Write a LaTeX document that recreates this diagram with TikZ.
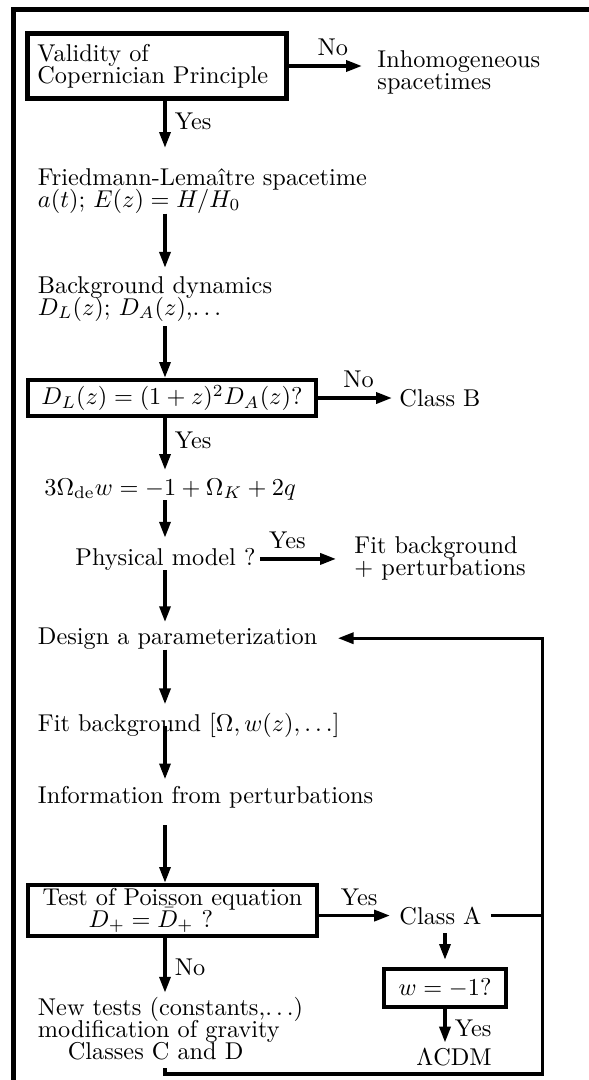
\documentclass[tikz,border=0pt]{standalone}
\usepackage{amsmath}
\usetikzlibrary{arrows.meta}
\newcommand{\tightfont}{\fontsize{10}{9}\selectfont\lineskiplimit=-\maxdimen}
\tikzset{
	flow/.style = {line width=1.4pt,-{Triangle[length=6.5pt,width=4.5pt]}},
	link/.style = {line width=1.4pt},
	txt/.style = {inner sep=0pt,align=left,font=\tightfont},
	testbox/.style = {draw,line width=1.8pt,inner sep=0pt,align=left,font=\tightfont},
	lbl/.style = {font=\tightfont}
}

\begin{document}
\begin{tikzpicture}[x=0.4115pt,y=-0.4115pt]
	\useasboundingbox (0,0) rectangle (588,1080);
	\draw[line width=2.2pt] (13.5,9.2) rectangle (700,1200);

	\coordinate (col) at (165,0);
	\coordinate (loopR) at (542.6,0);
	\coordinate (loopB) at (0,1074);

	% base of a text with several lines is its last line
	\node[testbox,minimum width=106.6pt,minimum height=26.7pt,inner xsep=4.1pt,text width=98.4pt] (cop) at (157,66) {Validity of\\Copernician Principle};
	\node[txt,anchor=base west] (inh) at (377,89) {Inhomogeneous\\spacetimes};
	\node[txt,anchor=base west] (frl) at (37.5,207) {Friedmann-Lema\^{\i}tre spacetime\\$a(t)$; $E(z)=H/H_0$};
	\node[txt,anchor=base west] (bgd) at (37.5,315) {Background dynamics\\$D_L(z)$; $D_A(z)$,$\ldots$};
	\node[testbox,minimum width=118.5pt,minimum height=14.8pt] (dist) at (172,398) {$D_L(z)=(1+z)^2D_A(z)?$};
	\node[txt,anchor=west] (clB) at (399,398) {Class B};
	\node[txt,anchor=base west] (eos) at (44,495) {$3\Omega_{\mathrm{de}}w=-1+\Omega_K+2q$};
	\node[txt,anchor=base west] (phys) at (75,565) {Physical model ?};
	\node[txt,anchor=base west] (fitp) at (354,575) {Fit background\\$+$ perturbations};
	\node[txt,anchor=base west] (par) at (37.5,644) {Design a parameterization};
	\node[txt,anchor=base west] (fbg) at (37.5,731) {Fit background $[\Omega,w(z),\ldots]$};
	\node[txt,anchor=base west] (info) at (37.5,803) {Information from perturbations};
	\node[testbox,minimum width=118.9pt,minimum height=21pt] (poi) at (172.5,910.5) {Test of Poisson equation\\\hspace*{19pt}$D_+=\bar{D}_+$ ?};
	\node[txt,anchor=base west] (clA) at (399,924) {Class A};
	\node[testbox,minimum width=50pt,minimum height=15.6pt] (wde) at (445,988) {$w=-1?$};
	\node[txt,anchor=base west] (lcdm) at (416,1065) {$\Lambda$CDM};
	\node[txt,anchor=base west] (newt) at (37.5,1059) {New tests (constants,$\ldots$)\\modification of gravity\\\hspace*{12.3pt}Classes C and D};

	\draw[flow,shorten >=6.2pt] (cop.east) -- node[lbl,above] {No} (cop.east -| inh.west);
	\draw[flow,shorten >=8.2pt] (cop.south -| col) -- node[lbl,right,pos=0.31] {Yes} (frl.north -| col);
	\draw[flow,shorten >=3.3pt] (frl.south -| col) -- (bgd.north -| col);
	\draw[flow,shorten <=2pt] (bgd.south -| col) -- (dist.north -| col);
	\draw[flow,shorten >=2.9pt] (dist.east) -- node[lbl,above] {No} (clB.west);
	\draw[flow,shorten >=3.3pt] (dist.south -| col) -- node[lbl,right,pos=0.37] {Yes} (eos.north -| col);
	\draw[flow,shorten >=4pt] (eos.south -| col) -- (phys.north -| col);
	\draw[flow,shorten <=1.6pt,shorten >=7.4pt] (phys.east) -- node[lbl,above,pos=0.32] {Yes} (phys.east -| fitp.west);
	\draw[flow,shorten >=2pt] (phys.south -| col) -- (par.north -| col);
	\draw[flow,shorten >=3.3pt] (par.south -| col) -- (fbg.north -| col);
	\draw[flow,shorten <=-4.9pt,shorten >=2.5pt] (fbg.south -| col) -- (info.north -| col);
	\draw[flow,shorten <=7pt] (info.south -| col) -- (poi.north -| col);
	\draw[flow,shorten >=1.6pt] (poi.south -| col) -- node[lbl,right] {No} (newt.north -| col);
	\draw[flow,shorten >=3.7pt] (poi.east |- clA.west) -- node[lbl,above] {Yes} (clA.west);
	\draw[flow,shorten <=3.3pt,shorten >=2.9pt] (clA.south -| wde.north) -- (wde.north);
	\draw[flow,shorten >=2pt] (wde.south) -- node[lbl,right] {Yes} (lcdm.north -| wde.south);

	\draw[link,shorten <=3.7pt] (clA.east) -- (clA.east -| loopR);
	\draw[flow,shorten <=3.3pt,shorten >=8.2pt] (newt.south -| col) -- (col |- loopB) -- (loopR |- loopB) -- (loopR |- par.east) -- (par.east);
\end{tikzpicture}
\end{document}
